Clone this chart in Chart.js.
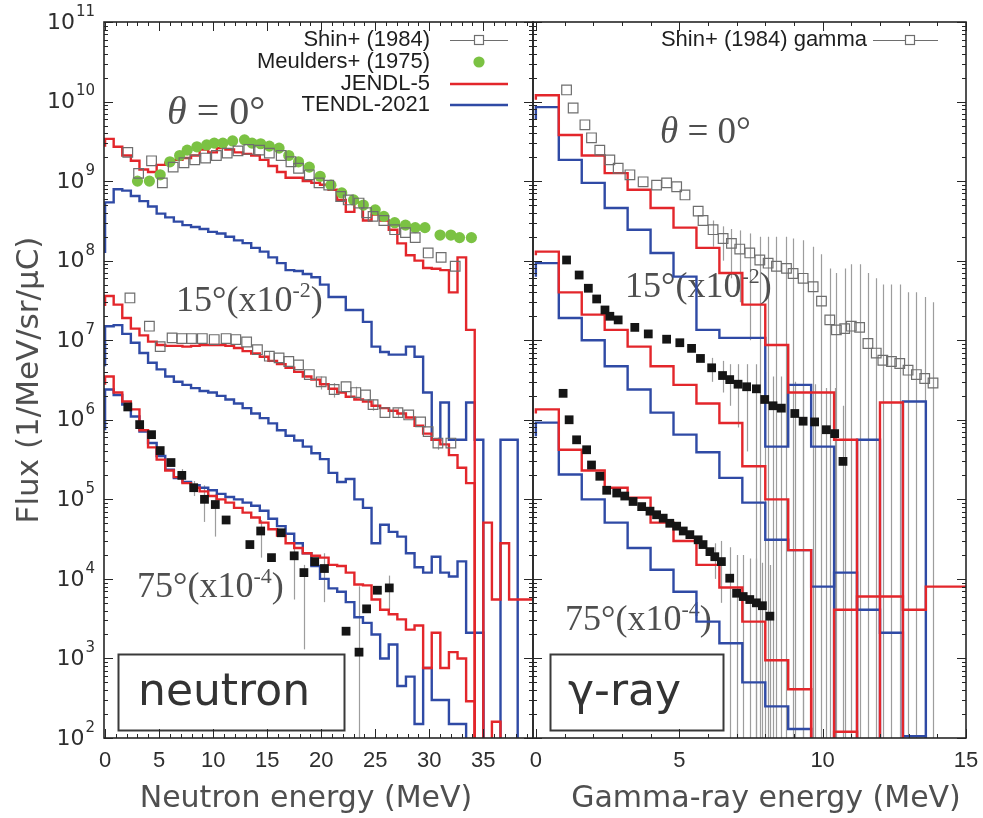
<!DOCTYPE html>
<html>
<head>
<meta charset="utf-8">
<script src="https://cdn.jsdelivr.net/npm/chart.js@4.4.1/dist/chart.umd.min.js"></script>
<style>
  html, body { margin: 0; padding: 0; background: #fff; }
  #wrap { position: relative; width: 983px; height: 818px; overflow: hidden; }
  #neutronChart { position: absolute; left: 0; top: 0; }
  #gammaChart { position: absolute; left: 520px; top: 0; }
</style>
</head>
<body>
<div id="wrap">
  <canvas id="neutronChart" width="545" height="818"></canvas>
  <canvas id="gammaChart" width="463" height="818"></canvas>
</div>
<script>
// --- data (flux in 1/MeV/sr/uC, energies in MeV) ---
const OFF = 1; // below the 1e2 floor, the step drops out of the frame

const nBinWidth = 0.7955; // 44 bins up to 35 MeV
const nTicks = [0, 5, 10, 15, 20, 25, 30, 35];
const gBinWidth = 0.8;
const gTicks = [0, 5, 10, 15];
const yDecades = [2, 3, 4, 5, 6, 7, 8, 9, 10, 11];

// neutron histograms, one value per bin
const nJendl0 = [2.7e9, 3.4e9, 2.7e9, 2.1e9, 1.8e9, 1.4e9, 1.3e9, 1.6e9, 1.7e9, 1.85e9,
  1.95e9, 2.1e9, 2.5e9, 2.3e9, 2.6e9, 2.5e9, 2.3e9, 2.2e9, 2.1e9, 1.85e9,
  1.55e9, 1.3e9, 1.1e9, 1.1e9, 1.0e9, 9.5e8, 9.0e8, 7.8e8, 5.8e8, 4.1e8,
  5.4e8, 3.2e8, 3.8e8, 3.2e8, 2.45e8, 1.65e8, 1.17e8, 1.0e8, 8.1e7, 7.9e7,
  7.6e7, 4.0e7, 1.1e8, 1.35e7, OFF, OFF, OFF, OFF, OFF, OFF];
const nTendl0 = [1.25e8, 5.4e8, 7.9e8, 7.6e8, 6.5e8, 5.6e8, 4.8e8, 3.9e8, 3.5e8, 3.1e8,
  2.8e8, 2.65e8, 2.5e8, 2.3e8, 2.2e8, 2.0e8, 1.8e8, 1.66e8, 1.45e8, 1.3e8,
  1.1e8, 9.3e7, 7.6e7, 7.4e7, 6.8e7, 6.2e7, 5.0e7, 3.5e7, 3.5e7, 2.4e7,
  2.4e7, 1.7e7, 8.3e6, 7.1e6, 6.6e6, 6.6e6, 8.3e6, 6.2e6, 2.2e6, 5.6e5,
  1.65e6, 5.6e5, 5.6e5, 1.65e6, 5.6e5, OFF, OFF, 5.6e5, 5.6e5, OFF];
const nJendl15 = [2.7e7, 3.6e7, 2.8e7, 1.9e7, 1.4e7, 1.15e7, 9.6e6, 8.7e6, 8.5e6, 8.5e6,
  8.3e6, 8.5e6, 8.7e6, 8.7e6, 8.7e6, 8.5e6, 8.0e6, 7.3e6, 6.8e6, 6.2e6,
  5.5e6, 5.0e6, 4.5e6, 4.0e6, 3.5e6, 3.2e6, 2.8e6, 2.45e6, 2.2e6, 1.95e6,
  1.8e6, 1.7e6, 1.5e6, 1.4e6, 1.3e6, 1.2e6, 1.07e6, 8.4e5, 6.7e5, 5.6e5,
  4.9e5, 3.6e5, 2.5e5, 1.6e5, OFF, 5.1e4, 5.5e3, 2.8e4, 5.5e3, 5.5e3];
const nTendl15 = [4.7e6, 1.5e7, 1.55e7, 1.2e7, 9.3e6, 6.9e6, 5.2e6, 4.3e6, 3.5e6, 3.0e6,
  2.75e6, 2.5e6, 2.3e6, 2.2e6, 2.0e6, 1.8e6, 1.6e6, 1.4e6, 1.2e6, 1.05e6,
  9.0e5, 7.4e5, 6.3e5, 5.5e5, 4.6e5, 3.8e5, 3.2e5, 2.15e5, 1.65e5, 1.8e5,
  1.0e5, 7.8e4, 2.8e4, 4.8e4, 3.9e4, 3.4e4, 2.1e4, 1.4e4, 1.2e4, 1.9e4,
  1.2e4, 1.07e4, 1.66e4, 2.1e3, 2.1e3, OFF, OFF, OFF, OFF, OFF];
const nJendl75 = [2.75e6, 3.5e6, 2.2e6, 1.7e6, 1.35e6, 7.4e5, 4.5e5, 3.16e5, 2.3e5, 1.9e5,
  1.6e5, 1.4e5, 1.26e5, 1.1e5, 1.0e5, 9.1e4, 7.8e4, 6.8e4, 5.9e4, 5.1e4,
  4.2e4, 3.5e4, 2.8e4, 2.45e4, 2.1e4, 1.95e4, 1.85e4, 1.5e4, 1.45e4, 1.2e4,
  8.5e3, 8.3e3, 5.5e3, 4.1e3, 3.6e3, 3.1e3, 2.3e3, 2.6e3, 7.6e2, 2.1e3,
  7.6e2, 1.2e3, 1.0e3, 2.9e2, OFF, OFF, 1.6e2, OFF, OFF, OFF];
const nTendl75 = [7.4e5, 2.4e6, 2.05e6, 1.55e6, 1.1e6, 7.1e5, 5.1e5, 3.5e5, 2.35e5, 1.85e5,
  1.65e5, 1.5e5, 1.4e5, 1.3e5, 1.17e5, 1.07e5, 1.0e5, 9.1e4, 8.3e4, 7.2e4,
  5.7e4, 4.6e4, 3.7e4, 2.8e4, 2.1e4, 1.45e4, 1.0e4, 7.6e3, 6.9e3, 5.1e3,
  3.3e3, 2.8e3, 2.0e3, 1.0e3, 1.5e3, 4.5e2, 5.9e2, 1.5e2, 7.6e2, 3.0e2,
  3.0e2, 1.5e2, 1.5e2, OFF, OFF, OFF, OFF, OFF, OFF, OFF];

// neutron measurements
const nShin0E = [2.1, 3.1, 4.3, 5.3, 6.3, 7.3, 8.3, 9.3, 10.3, 11.3, 12.3, 13.3, 14.3, 15.2, 16.3, 17.2,
  17.9, 18.9, 19.8, 20.7, 21.8, 22.5, 23.5, 24.2, 24.8, 25.8, 26.8, 27.8, 28.7, 29.9, 31.1, 32.4];
const nShin0 = [2.3e9, 1.25e9, 1.8e9, 9.5e8, 1.5e9, 1.7e9, 1.85e9, 1.95e9, 2.1e9, 2.25e9, 2.4e9, 2.5e9, 2.45e9, 2.25e9, 2.1e9, 1.75e9,
  1.45e9, 1.2e9, 9.5e8, 8.9e8, 6.4e8, 5.8e8, 5.3e8, 4.0e8, 3.6e8, 3.2e8, 2.45e8, 2.25e8, 1.95e8, 1.25e8, 1.1e8, 8.5e7];
const nMeuE = [3.0, 4.1, 5.1, 6.0, 6.9, 7.6, 8.5, 9.4, 10.1, 10.9, 11.8, 12.9, 13.6, 14.4, 15.2, 16.1, 17.0,
  17.9, 18.9, 19.9, 20.9, 21.9, 23.0, 23.9, 25.0, 25.8, 26.8, 27.8, 28.7, 29.6, 31.0, 32.0, 32.8, 33.9];
const nMeu = [1.0e9, 1.0e9, 1.2e9, 1.75e9, 2.1e9, 2.45e9, 2.7e9, 2.85e9, 3.0e9, 3.0e9, 3.2e9, 3.3e9, 3.0e9, 2.95e9, 2.75e9, 2.6e9, 2.1e9,
  1.75e9, 1.5e9, 1.15e9, 8.9e8, 7.1e8, 5.8e8, 5.0e8, 4.35e8, 3.6e8, 3.0e8, 2.8e8, 2.6e8, 2.6e8, 2.1e8, 2.1e8, 1.95e8, 1.95e8];
const nShin15E = [2.3, 4.1, 5.1, 6.2, 7.1, 8.0, 9.0, 10.1, 11.2, 12.1, 13.1, 14.1, 15.2, 16.1, 17.0,
  17.9, 18.9, 20.0, 21.2, 22.3, 23.2, 24.1, 24.8, 25.9, 27.1, 28.1, 29.2, 29.9, 30.8, 32.0];
const nShin15 = [3.4e7, 1.5e7, 8.3e6, 1.07e7, 1.05e7, 1.05e7, 1.05e7, 1.02e7, 1.05e7, 1.02e7, 9.5e6, 7.6e6, 6.3e6, 6.0e6, 5.4e6,
  4.9e6, 3.7e6, 3.0e6, 2.4e6, 2.6e6, 2.2e6, 2.05e6, 1.55e6, 1.23e6, 1.23e6, 1.15e6, 9.4e5, 7.1e5, 5.1e5, 5.1e5];
const nShin15Lo = [null, null, null, null, null, null, null, null, null, null, null, null, 5.3e6, null, null,
  null, null, 2.4e6, 1.9e6, null, 1.8e6, null, 1.3e6, null, 1.05e6, null, null, null, 4.2e5, null];
const nShin15Hi = [null, null, null, null, null, null, null, null, null, null, null, null, 7.3e6, null, null,
  null, null, 3.5e6, 2.9e6, null, 2.6e6, null, 1.8e6, null, 1.4e6, null, null, null, 6.0e5, null];
const n75E = [2.1, 3.2, 4.3, 5.1, 6.1, 7.1, 8.2, 9.2, 10.2, 11.2, 13.4, 14.4, 15.4, 16.3, 17.5, 18.4,
  19.4, 20.3, 22.3, 23.5, 24.2, 25.2, 26.3];
const n75 = [1.45e6, 8.7e5, 6.5e5, 4.1e5, 2.9e5, 2.0e5, 1.4e5, 1.0e5, 8.6e4, 5.5e4, 2.7e4, 4.0e4, 1.85e4, 3.8e4, 1.95e4, 1.2e4,
  1.65e4, 1.35e4, 2.2e3, 1.2e3, 4.2e3, 7.2e3, 7.7e3];
const n75Lo = [null, null, null, null, null, 1.6e5, 1.1e5, 5.2e4, 3.4e4, null, null, 1.85e4, null, null, 5.5e3, 1.3e3,
  null, 5.1e3, null, OFF, null, null, 4.1e3];
const n75Hi = [null, null, null, null, null, 2.4e5, 1.7e5, 1.5e5, 1.15e5, null, null, 5.5e4, null, null, 3.1e4, 1.5e4,
  null, 2.1e4, null, 8.1e3, null, null, 1.1e4];

// gamma histograms, one value per bin
const gJendl0 = [1.05e10, 1.2e10, 3.8e9, 2.1e9, 1.26e9, 7.8e8, 4.6e8, 2.6e8, 1.45e8, 7.0e7,
  2.8e7, 8.7e6, 2.2e6, 2.2e6, 5.6e5, OFF, 1.65e6, OFF, OFF];
const gTendl0 = [5.9e9, 8.5e9, 1.85e9, 9.5e8, 4.6e8, 2.45e8, 1.25e8, 6.3e7, 1.35e7, 1.07e7,
  1.07e7, 4.6e5, 2.75e6, 4.6e5, OFF, 5.6e5, OFF, 1.7e6, OFF];
const gJendl15 = [1.17e8, 1.3e8, 4.0e7, 2.1e7, 1.35e7, 8.3e6, 4.7e6, 2.75e6, 1.6e6, 9.1e5,
  2.6e5, 1.0e5, 2.3e4, OFF, 4.1e3, 6.0e3, 6.0e3, 4.1e3, 8.0e3];
const gTendl15 = [6.3e7, 9.3e7, 1.9e7, 1.0e7, 4.7e6, 2.4e6, 1.23e6, 6.5e5, 3.9e5, 1.86e5,
  9.1e4, 3.1e4, 2.3e4, 8.0e3, 1.2e4, 4.1e3, 2.1e3, 1.05e2, OFF];
const gJendl75 = [1.2e6, 1.35e6, 4.2e5, 2.3e5, 1.4e5, 1.05e5, 5.1e4, 3.0e4, 1.5e4, 7.8e3,
  2.9e3, 9.5e2, 4.1e2, OFF, 1.2e2, OFF, OFF, OFF, OFF];
const gTendl75 = [6.2e5, 9.2e5, 2.05e5, 1.0e5, 5.1e4, 2.45e4, 1.3e4, 6.9e3, 2.9e3, 1.55e3,
  5.0e2, 2.5e2, 1.3e2, OFF, OFF, OFF, OFF, OFF, OFF];

// gamma measurements
const gShin0E = [1.07, 1.30, 1.71, 1.94, 2.23, 2.58, 2.87, 3.28, 3.74, 4.21, 4.56, 4.91, 5.20, 5.66, 5.83,
  6.18, 6.53, 6.82, 7.11, 7.46, 7.81, 8.10, 8.39, 8.74, 8.97, 9.32, 9.67, 9.96, 10.25, 10.48,
  10.77, 11.00, 11.29, 11.58, 11.87, 12.10, 12.40, 12.69, 12.98, 13.27, 13.56, 13.85];
const gShin0 = [1.4e10, 8.3e9, 5.1e9, 3.5e9, 2.45e9, 1.85e9, 1.45e9, 1.2e9, 9.8e8, 8.9e8, 9.5e8, 8.5e8, 6.7e8, 4.2e8, 3.2e8,
  2.45e8, 1.9e8, 1.65e8, 1.4e8, 1.25e8, 1.02e8, 9.3e7, 8.5e7, 8.0e7, 6.9e7, 6.0e7, 4.7e7, 3.1e7, 1.8e7, 1.35e7,
  1.4e7, 1.5e7, 1.45e7, 9.1e6, 6.9e6, 5.6e6, 5.4e6, 5.1e6, 4.2e6, 3.7e6, 3.3e6, 2.9e6];
const gShin0Lo = [null, null, null, null, null, null, null, null, null, null, null, null, null, null, null,
  1.5e8, 1.0e8, 6.0e7, 3.0e7, 1.0e7, OFF, OFF, OFF, OFF, OFF, OFF, OFF, OFF, OFF, OFF,
  OFF, OFF, OFF, OFF, OFF, OFF, OFF, OFF, OFF, OFF, OFF, OFF];
const gShin0Hi = [null, null, null, null, null, null, null, null, null, null, null, null, null, null, null,
  3.2e8, 2.7e8, 2.5e8, 2.4e8, 2.2e8, 2.0e8, 2.0e8, 2.0e8, 2.0e8, 1.9e8, 1.8e8, 1.5e8, 1.2e8, 8.0e7, 7.0e7,
  8.0e7, 9.0e7, 9.0e7, 7.0e7, 6.0e7, 5.0e7, 5.0e7, 5.0e7, 4.0e7, 4.0e7, 3.5e7, 3.0e7];
const g15E = [1.07, 1.51, 1.83, 2.12, 2.41, 2.58, 2.87, 3.45, 3.92, 4.56, 5.02, 5.43, 5.74, 6.13,
  6.51, 6.76, 7.05, 7.35, 7.69, 7.98, 8.27, 8.56, 9.03, 9.32, 9.72, 10.13, 10.42, 10.71];
const g15 = [1.02e8, 6.6e7, 4.5e7, 3.3e7, 2.4e7, 2.0e7, 1.8e7, 1.45e7, 1.2e7, 1.03e7, 9.3e6, 7.9e6, 5.9e6, 4.5e6,
  3.6e6, 3.2e6, 2.8e6, 2.6e6, 2.45e6, 1.8e6, 1.5e6, 1.4e6, 1.2e6, 9.6e5, 9.4e5, 7.5e5, 6.7e5, 3.0e5];
const g15Lo = [null, null, null, null, null, null, null, null, null, null, null, null, null, 3.0e6,
  2.2e6, 1.5e6, 8.0e5, 4.0e5, OFF, OFF, OFF, OFF, OFF, OFF, OFF, OFF, OFF, OFF];
const g15Hi = [null, null, null, null, null, null, null, null, null, null, null, null, null, 6.0e6,
  5.5e6, 5.0e6, 5.0e6, 5.0e6, 5.0e6, 4.0e6, 3.5e6, 3.5e6, 3.0e6, 2.8e6, 2.8e6, 2.5e6, 2.5e6, 1.5e6];
const g75E = [0.95, 1.16, 1.42, 1.77, 1.94, 2.23, 2.47, 2.82, 3.10, 3.39, 3.69, 3.98, 4.21, 4.44, 4.67,
  4.91, 5.14, 5.37, 5.66, 5.83, 6.07, 6.24, 6.47, 6.76, 7.00, 7.23, 7.46, 7.69, 7.90, 8.16];
const g75 = [2.15e6, 1.0e6, 5.6e5, 4.2e5, 2.7e5, 1.95e5, 1.3e5, 1.2e5, 1.1e5, 9.4e4, 8.1e4, 7.1e4, 6.4e4, 5.8e4, 5.0e4,
  4.6e4, 4.0e4, 3.6e4, 3.1e4, 2.7e4, 2.2e4, 1.9e4, 1.65e4, 1.02e4, 6.6e3, 6.0e3, 5.5e3, 5.0e3, 4.6e3, 3.4e3];
const g75Lo = [null, null, null, null, null, null, null, null, null, null, null, null, null, null, null,
  null, null, null, null, null, null, 1.0e4, 5.0e3, OFF, OFF, OFF, OFF, OFF, OFF, OFF];
const g75Hi = [null, null, null, null, null, null, null, null, null, null, null, null, null, null, null,
  null, null, null, null, null, null, 2.8e4, 3.0e4, 2.5e4, 2.0e4, 2.0e4, 1.8e4, 1.8e4, 1.6e4, 1.5e4];

// --- styles ---
const COL = {
  jendl: '#e3262b', tendl: '#2f4aa5', meu: '#7bc243', shin: '#6e6e6e',
  err: '#9d9d9d', filled: '#151515', frame: '#262626', ink: '#2e2e2e', soft: '#4f4f4f'
};
const SANS = "'DejaVu Sans', sans-serif";
const ARIAL = "'Liberation Sans', Arial, sans-serif";
const SERIF = "'Liberation Serif', 'DejaVu Serif', serif";

// --- helpers ---
const steps = (width, vals) => {
  const out = vals.map((v, i) => ({ x: i * width, y: v }));
  out.push({ x: vals.length * width, y: vals[vals.length - 1] });
  return out;
};
const pairs = (xs, ys) => xs.map((x, i) => ({ x: x, y: ys[i] }));

const histSet = (label, width, vals, color) => ({
  type: 'line', label, data: steps(width, vals), borderColor: color, borderWidth: 2.4,
  stepped: 'after', pointRadius: 0, fill: false
});
const openSquares = (label, xs, ys, lo, hi) => ({
  type: 'scatter', label, data: pairs(xs, ys), showLine: false,
  pointStyle: 'rect', pointRadius: 6.8, pointBorderColor: COL.shin,
  pointBackgroundColor: 'rgba(255,255,255,0)', pointBorderWidth: 1.2, errLo: lo, errHi: hi
});
const filledSquares = (label, xs, ys, lo, hi) => ({
  type: 'scatter', label, data: pairs(xs, ys), showLine: false,
  pointStyle: 'rect', pointRadius: 6.2, pointBorderColor: COL.filled,
  pointBackgroundColor: COL.filled, pointBorderWidth: 0, errLo: lo, errHi: hi
});
const dots = (label, xs, ys) => ({
  type: 'scatter', label, data: pairs(xs, ys), showLine: false,
  pointStyle: 'circle', pointRadius: 5.6, pointBorderWidth: 0,
  pointBackgroundColor: COL.meu, pointBorderColor: COL.meu
});

// text made of pieces with different fonts (superscripts, italic theta)
const rich = (ctx, x, y, parts) => {
  let cx = x;
  parts.forEach(([txt, font, dy]) => {
    ctx.font = font;
    ctx.fillText(txt, cx, y + (dy || 0));
    cx += ctx.measureText(txt).width;
  });
};

// error bars under the markers
const errorBars = {
  id: 'errorBars',
  beforeDatasetsDraw(chart) {
    const { ctx, chartArea: a, scales: { x, y } } = chart;
    ctx.save();
    ctx.beginPath();
    ctx.rect(a.left, a.top, a.right - a.left, a.bottom - a.top);
    ctx.clip();
    ctx.strokeStyle = COL.err;
    ctx.lineWidth = 1.2;
    chart.data.datasets.forEach(ds => {
      if (!ds.errLo) return;
      ds.data.forEach((p, i) => {
        const lo = ds.errLo[i], hi = ds.errHi[i];
        if (lo == null || hi == null) return;
        const px = Math.round(x.getPixelForValue(p.x)) + 0.5;
        ctx.beginPath();
        ctx.moveTo(px, y.getPixelForValue(lo));
        ctx.lineTo(px, y.getPixelForValue(hi));
        ctx.stroke();
      });
    });
    ctx.restore();
  }
};

// gnuplot-like frame with inward ticks on all four sides
const frame = {
  id: 'frame',
  afterDraw(chart) {
    const { ctx, chartArea: a, scales: { x, y } } = chart;
    ctx.save();
    ctx.strokeStyle = COL.frame;
    ctx.lineWidth = 1;
    const seg = (x1, y1, x2, y2) => { ctx.beginPath(); ctx.moveTo(x1, y1); ctx.lineTo(x2, y2); ctx.stroke(); };
    for (let v = Math.ceil(x.min); v <= x.max; v++) {
      const px = Math.round(x.getPixelForValue(v)) + 0.5;
      const len = v % 5 === 0 ? 9 : 4;
      seg(px, a.bottom, px, a.bottom - len);
      seg(px, a.top, px, a.top + len);
    }
    yDecades.forEach(d => {
      for (let m = 1; m < 10; m++) {
        if (d === 11 && m > 1) break;
        const py = Math.round(y.getPixelForValue(m * Math.pow(10, d))) + 0.5;
        const len = m === 1 ? 9 : 4;
        seg(a.left, py, a.left + len, py);
        seg(a.right, py, a.right - len, py);
      }
    });
    ctx.lineWidth = 1.6;
    ctx.strokeRect(a.left, a.top, a.right - a.left, a.bottom - a.top);
    ctx.restore();
  }
};

const baseOptions = (xMin, xMax, tickValues) => ({
  responsive: false,
  animation: false,
  events: [],
  layout: { padding: { top: 22, left: 0, right: 0, bottom: 0 } },
  plugins: { legend: { display: false }, tooltip: { enabled: false } },
  scales: {
    x: {
      type: 'linear', min: xMin, max: xMax,
      grid: { display: false, drawTicks: false },
      border: { display: false },
      afterBuildTicks: s => { s.ticks = tickValues.map(v => ({ value: v })); },
      afterFit: s => { s.height = 80; s.paddingLeft = 0; s.paddingRight = 0; },
      ticks: { color: COL.ink, font: { family: ARIAL, size: 22 }, padding: 10, maxRotation: 0, autoSkip: false }
    },
    y: {
      type: 'logarithmic', min: 1e2, max: 1e11,
      grid: { display: false, drawTicks: false },
      border: { display: false },
      ticks: { display: false }
    }
  }
});

// --- neutron panel ---
const neutronNotes = {
  id: 'neutronNotes',
  beforeDatasetsDraw(chart) {
    const ctx = chart.ctx;
    ctx.save();
    ctx.fillStyle = COL.soft;
    ctx.textBaseline = 'alphabetic';
    rich(ctx, 167, 124, [['θ', 'italic 40px ' + SERIF], [' = 0°', '40px ' + SERIF]]);
    rich(ctx, 176, 311, [['15°(x10', '36px ' + SERIF], ['-2', '22px ' + SERIF, -14], [')', '36px ' + SERIF]]);
    rich(ctx, 137, 597, [['75°(x10', '36px ' + SERIF], ['-4', '22px ' + SERIF, -14], [')', '36px ' + SERIF]]);
    ctx.strokeStyle = '#3a3a3a';
    ctx.lineWidth = 2;
    ctx.strokeRect(118.5, 654.5, 226, 76);
    ctx.fillStyle = '#333';
    ctx.font = '44px ' + SANS;
    ctx.fillText('neutron', 138, 705);
    ctx.restore();
  },
  afterDraw(chart) {
    const ctx = chart.ctx;
    ctx.save();
    // y tick labels 10^n
    ctx.fillStyle = COL.ink;
    ctx.textBaseline = 'middle';
    yDecades.forEach(d => {
      const py = chart.scales.y.getPixelForValue(Math.pow(10, d));
      ctx.font = '15px ' + SANS;
      const ew = ctx.measureText(String(d)).width;
      ctx.textAlign = 'left';
      ctx.fillText(String(d), 95 - ew, py - 10);
      ctx.textAlign = 'right';
      ctx.font = '22px ' + SANS;
      ctx.fillText('10', 94 - ew, py + 1);
    });
    // axis titles
    ctx.fillStyle = COL.soft;
    ctx.textAlign = 'center';
    ctx.textBaseline = 'alphabetic';
    ctx.font = '30px ' + SANS;
    ctx.fillText('Neutron energy (MeV)', 306, 807);
    ctx.save();
    ctx.translate(38, 380);
    ctx.rotate(-Math.PI / 2);
    ctx.font = '31px ' + SANS;
    ctx.fillText('Flux (1/MeV/sr/μC)', 0, 0);
    ctx.restore();
    // legend
    ctx.fillStyle = '#1e1e1e';
    ctx.textAlign = 'right';
    ctx.textBaseline = 'middle';
    ctx.font = '22px ' + ARIAL;
    const rows = [['Shin+ (1984)', 40], ['Meulders+ (1975)', 62], ['JENDL-5', 84], ['TENDL-2021', 105]];
    rows.forEach(([t, yy]) => ctx.fillText(t, 430, yy));
    ctx.lineWidth = 1.2;
    ctx.strokeStyle = COL.shin;
    ctx.beginPath(); ctx.moveTo(450, 40.5); ctx.lineTo(508, 40.5); ctx.stroke();
    ctx.fillStyle = '#fff';
    ctx.fillRect(474, 35, 10, 10);
    ctx.strokeRect(474.5, 35.5, 9, 9);
    ctx.fillStyle = COL.meu;
    ctx.beginPath(); ctx.arc(479, 62, 5.6, 0, Math.PI * 2); ctx.fill();
    ctx.lineWidth = 2.4;
    ctx.strokeStyle = COL.jendl;
    ctx.beginPath(); ctx.moveTo(450, 84); ctx.lineTo(508, 84); ctx.stroke();
    ctx.strokeStyle = COL.tendl;
    ctx.beginPath(); ctx.moveTo(450, 105); ctx.lineTo(508, 105); ctx.stroke();
    ctx.restore();
  }
};

const nOpts = baseOptions(-0.1, 39.6, nTicks);
nOpts.layout.padding.right = 12;
nOpts.scales.y.afterFit = s => { s.width = 104; };

new Chart(document.getElementById('neutronChart').getContext('2d'), {
  type: 'scatter',
  data: {
    datasets: [
      filledSquares('75 deg data', n75E, n75, n75Lo, n75Hi),
      openSquares('Shin+ (1984) 15 deg', nShin15E, nShin15, nShin15Lo, nShin15Hi),
      openSquares('Shin+ (1984)', nShin0E, nShin0),
      dots('Meulders+ (1975)', nMeuE, nMeu),
      histSet('JENDL-5 0', nBinWidth, nJendl0, COL.jendl),
      histSet('JENDL-5 15', nBinWidth, nJendl15, COL.jendl),
      histSet('JENDL-5 75', nBinWidth, nJendl75, COL.jendl),
      histSet('TENDL-2021 0', nBinWidth, nTendl0, COL.tendl),
      histSet('TENDL-2021 15', nBinWidth, nTendl15, COL.tendl),
      histSet('TENDL-2021 75', nBinWidth, nTendl75, COL.tendl)
    ]
  },
  options: nOpts,
  plugins: [errorBars, neutronNotes, frame]
});

// --- gamma panel (canvas starts 520 px right) ---
const gammaNotes = {
  id: 'gammaNotes',
  beforeDatasetsDraw(chart) {
    const ctx = chart.ctx;
    ctx.save();
    ctx.fillStyle = COL.soft;
    ctx.textBaseline = 'alphabetic';
    rich(ctx, 140, 143, [['θ', 'italic 37px ' + SERIF], [' = 0°', '37px ' + SERIF]]);
    rich(ctx, 105, 297, [['15°(x10', '36px ' + SERIF], ['-2', '22px ' + SERIF, -14], [')', '36px ' + SERIF]]);
    rich(ctx, 45, 630, [['75°(x10', '36px ' + SERIF], ['-4', '22px ' + SERIF, -14], [')', '36px ' + SERIF]]);
    ctx.strokeStyle = '#3a3a3a';
    ctx.lineWidth = 2;
    ctx.strokeRect(30.5, 654.5, 173, 76);
    ctx.fillStyle = '#333';
    ctx.font = '44px ' + SANS;
    ctx.fillText('γ-ray', 48, 705);
    ctx.restore();
  },
  afterDraw(chart) {
    const ctx = chart.ctx;
    ctx.save();
    ctx.fillStyle = COL.soft;
    ctx.textAlign = 'center';
    ctx.font = '30px ' + SANS;
    ctx.fillText('Gamma-ray energy (MeV)', 246, 807);
    ctx.fillStyle = '#1e1e1e';
    ctx.textAlign = 'right';
    ctx.textBaseline = 'middle';
    ctx.font = '22px ' + ARIAL;
    ctx.fillText('Shin+ (1984) gamma', 347, 40);
    ctx.lineWidth = 1.2;
    ctx.strokeStyle = COL.shin;
    ctx.beginPath(); ctx.moveTo(353, 40.5); ctx.lineTo(418, 40.5); ctx.stroke();
    ctx.fillStyle = '#fff';
    ctx.fillRect(385, 35, 10, 10);
    ctx.strokeRect(385.5, 35.5, 9, 9);
    ctx.restore();
  }
};

const gOpts = baseOptions(-0.1, 15, gTicks);
gOpts.layout.padding.right = 17;
gOpts.scales.y.afterFit = s => { s.width = 13; };

new Chart(document.getElementById('gammaChart').getContext('2d'), {
  type: 'scatter',
  data: {
    datasets: [
      filledSquares('75 deg data', g75E, g75, g75Lo, g75Hi),
      filledSquares('15 deg data', g15E, g15, g15Lo, g15Hi),
      openSquares('Shin+ (1984) gamma', gShin0E, gShin0, gShin0Lo, gShin0Hi),
      histSet('JENDL-5 0', gBinWidth, gJendl0, COL.jendl),
      histSet('JENDL-5 15', gBinWidth, gJendl15, COL.jendl),
      histSet('JENDL-5 75', gBinWidth, gJendl75, COL.jendl),
      histSet('TENDL-2021 0', gBinWidth, gTendl0, COL.tendl),
      histSet('TENDL-2021 15', gBinWidth, gTendl15, COL.tendl),
      histSet('TENDL-2021 75', gBinWidth, gTendl75, COL.tendl)
    ]
  },
  options: gOpts,
  plugins: [errorBars, gammaNotes, frame]
});
</script>
</body>
</html>
